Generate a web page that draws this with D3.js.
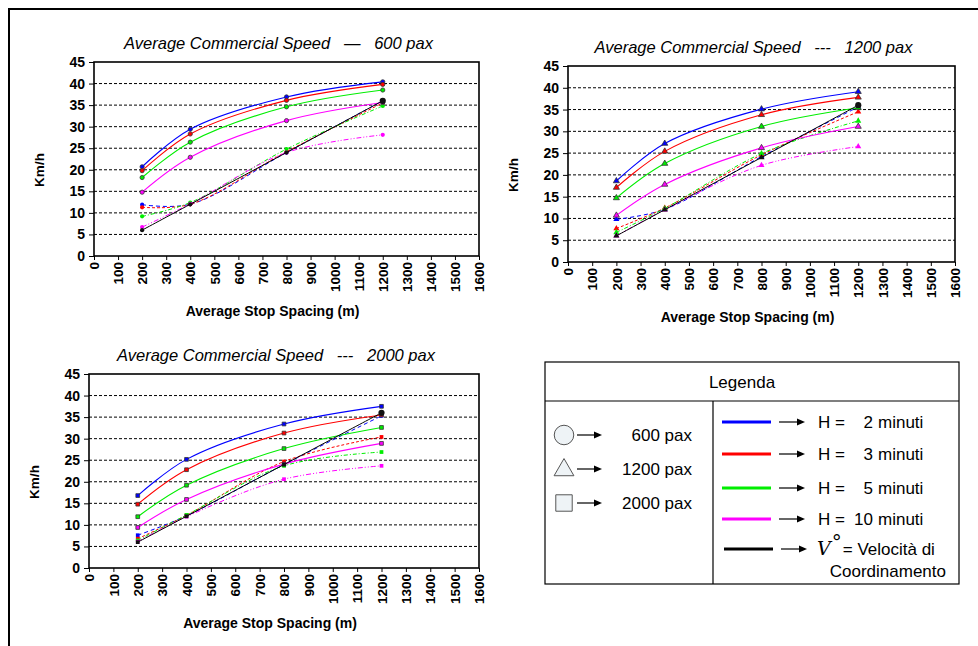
<!DOCTYPE html>
<html>
<head>
<meta charset="utf-8">
<script src="https://cdn.jsdelivr.net/npm/d3@7"></script>
<style>
  body { margin: 0; background: #fff; }
  svg { display: block; }
</style>
</head>
<body>
<script>
/* DATA */
const stopSpacing = [200, 400, 800, 1200];   // m
const xTicks = d3.range(0, 1601, 100);
const yTicks = d3.range(0, 46, 5);
const headwayLabels = ['2', '3', '5', '10'];
const vCoord = [6, 12, 24, 36];               // velocità di coordinamento

// rows: H = 2, 3, 5, 10 minuti
const solid600  = [[20.7, 29.4, 36.9, 40.4], [19.8, 28.3, 36.1, 39.8], [18.2, 26.4, 34.6, 38.5], [14.8, 22.9, 31.4, 35.6]];
const dashed600 = [[11.9, 12.0, 24.0, 36.0], [11.3, 12.0, 24.2, 35.5], [9.2, 12.4, 24.8, 34.8], [6.7, 12.1, 24.0, 28.1]];
const solid1200  = [[18.6, 27.2, 35.1, 39.1], [17.1, 25.4, 33.8, 37.8], [14.7, 22.6, 31.1, 35.4], [10.7, 17.8, 26.2, 31.1]];
const dashed1200 = [[9.8, 12.1, 24.2, 35.6], [7.7, 12.4, 24.6, 34.5], [6.8, 12.3, 24.9, 32.4], [6.0, 12.0, 22.2, 26.5]];
const solid2000  = [[16.8, 25.2, 33.4, 37.5], [14.8, 22.8, 31.3, 35.5], [11.9, 19.2, 27.7, 32.6], [9.4, 15.9, 24.1, 28.9]];
const dashed2000 = [[7.6, 12.1, 24.0, 35.3], [6.8, 12.2, 24.7, 30.4], [6.4, 12.3, 23.7, 26.9], [6.1, 11.9, 20.6, 23.7]];

/* STYLE */
const seriesColors = ['#0000ff', '#ff0000', '#00ee00', '#ff00ff'];
const dashPatterns = ['4,3', '3,2', '4,2,1,2', '5,2,1,2,1,2'];
const font = "Arial, 'Liberation Sans', sans-serif";

const width = 978, height = 646;

const svg = d3.select('body').append('svg')
    .attr('width', width)
    .attr('height', height)
    .style('font-family', font);

svg.append('rect').attr('width', width).attr('height', height).attr('fill', 'white');

// outer frame (left + top only visible)
svg.append('path')
    .attr('d', `M9,${height} V9 H${width}`)
    .attr('fill', 'none')
    .attr('stroke', '#000')
    .attr('stroke-width', 2);

const panels = [
  { title: 'Average Commercial Speed   \u2014   600 pax', left: 94, right: 479, top: 62, bottom: 256,
    symbol: d3.symbolCircle, size: 14, solid: solid600, dashed: dashed600 },
  { title: 'Average Commercial Speed   ---   1200 pax', left: 568, right: 955, top: 66, bottom: 262,
    symbol: d3.symbolTriangle, size: 16, solid: solid1200, dashed: dashed1200 },
  { title: 'Average Commercial Speed   ---   2000 pax', left: 89, right: 479, top: 374, bottom: 568,
    symbol: d3.symbolSquare, size: 14, solid: solid2000, dashed: dashed2000 }
];

function drawPanel(p) {
  const x = d3.scaleLinear().domain([0, 1600]).range([p.left, p.right]);
  const y = d3.scaleLinear().domain([0, 45]).range([p.bottom, p.top]);
  const midX = (p.left + p.right) / 2;
  const g = svg.append('g');

  // title
  g.append('text')
      .attr('x', midX - 8)
      .attr('y', p.top - 13)
      .attr('text-anchor', 'middle')
      .style('font-style', 'italic')
      .style('font-size', '16.5px')
      .style('white-space', 'pre')
      .text(p.title);

  // dotted gridlines
  g.selectAll('line.grid')
    .data(yTicks.filter(v => v > 0 && v < 45))
    .join('line')
      .attr('class', 'grid')
      .attr('x1', p.left).attr('x2', p.right)
      .attr('y1', d => y(d)).attr('y2', d => y(d))
      .attr('stroke', '#000')
      .attr('stroke-width', 1)
      .attr('stroke-dasharray', '3,2');

  // axes
  const yAxis = g.append('g')
      .attr('transform', `translate(${p.left},0)`)
      .call(d3.axisLeft(y).tickValues(yTicks).tickSize(5).tickPadding(4).tickFormat(d3.format('d')));
  yAxis.select('.domain').remove();
  yAxis.selectAll('text')
      .style('font-size', '14px').style('font-weight', 'bold').style('font-family', font).attr('fill', '#000');

  const xAxis = g.append('g')
      .attr('transform', `translate(0,${p.bottom})`)
      .call(d3.axisBottom(x).tickValues(xTicks).tickSize(4).tickFormat(d3.format('d')));
  xAxis.select('.domain').remove();
  xAxis.selectAll('text')
      .attr('transform', 'rotate(-90)')
      .attr('x', -6)
      .attr('y', 0)
      .attr('dy', '0.35em')
      .style('text-anchor', 'end')
      .style('font-size', '13.5px').style('font-weight', 'bold').style('font-family', font).attr('fill', '#000');

  // plot border
  g.append('rect')
      .attr('x', p.left).attr('y', p.top)
      .attr('width', p.right - p.left).attr('height', p.bottom - p.top)
      .attr('fill', 'none')
      .attr('stroke', '#000')
      .attr('stroke-width', 1.6);

  // axis titles
  g.append('text')
      .attr('x', midX - 14)
      .attr('y', p.bottom + 60)
      .attr('text-anchor', 'middle')
      .style('font-weight', 'bold')
      .style('font-size', '14px')
      .text('Average Stop Spacing (m)');

  g.append('text')
      .attr('transform', `translate(${p.left - 50},${(p.top + p.bottom) / 2 + 11}) rotate(-90)`)
      .attr('text-anchor', 'middle')
      .style('font-weight', 'bold')
      .style('font-size', '13.5px')
      .text('Km/h');

  const line = d3.line()
      .x((d, i) => x(stopSpacing[i]))
      .y(d => y(d))
      .curve(d3.curveCatmullRom.alpha(0.5));

  const sym = d3.symbol().type(p.symbol).size(p.size);
  const symBig = d3.symbol().type(d3.symbolCircle).size(30);

  // dashed series
  p.dashed.forEach((vals, k) => {
    g.append('path')
        .attr('d', line(vals))
        .attr('fill', 'none')
        .attr('stroke', seriesColors[k])
        .attr('stroke-width', 1)
        .attr('stroke-dasharray', dashPatterns[k]);
    g.selectAll(null).data(vals).join('path')
        .attr('transform', (d, i) => `translate(${x(stopSpacing[i])},${y(d)})`)
        .attr('d', sym)
        .attr('fill', seriesColors[k]);
  });

  // solid series
  p.solid.forEach((vals, k) => {
    g.append('path')
        .attr('d', line(vals))
        .attr('fill', 'none')
        .attr('stroke', seriesColors[k])
        .attr('stroke-width', 1.1);
    g.selectAll(null).data(vals).join('path')
        .attr('transform', (d, i) => `translate(${x(stopSpacing[i])},${y(d)})`)
        .attr('d', sym)
        .attr('fill', seriesColors[k])
        .attr('stroke', '#333')
        .attr('stroke-width', 0.8);
  });

  // coordination speed
  g.append('path')
      .attr('d', line(vCoord))
      .attr('fill', 'none')
      .attr('stroke', '#000')
      .attr('stroke-width', 1);
  g.selectAll(null).data(vCoord).join('path')
      .attr('transform', (d, i) => `translate(${x(stopSpacing[i])},${y(d)})`)
      .attr('d', (d, i) => i === vCoord.length - 1 ? symBig() : sym())
      .attr('fill', '#111');
}

panels.forEach(drawPanel);

/* LEGEND */
const lg = svg.append('g');
const box = { left: 545, right: 959, top: 362, bottom: 584, header: 401, divider: 713 };

lg.append('rect')
    .attr('x', box.left).attr('y', box.top)
    .attr('width', box.right - box.left).attr('height', box.bottom - box.top)
    .attr('fill', 'white').attr('stroke', '#000').attr('stroke-width', 1.2);
lg.append('line')
    .attr('x1', box.left).attr('x2', box.right)
    .attr('y1', box.header).attr('y2', box.header)
    .attr('stroke', '#000').attr('stroke-width', 1.2);
lg.append('line')
    .attr('x1', box.divider).attr('x2', box.divider)
    .attr('y1', box.header).attr('y2', box.bottom)
    .attr('stroke', '#000').attr('stroke-width', 1.2);

lg.append('text')
    .attr('x', 742).attr('y', 388)
    .attr('text-anchor', 'middle')
    .style('font-size', '17px')
    .text('Legenda');

function arrow(x1, x2, yy) {
  lg.append('line')
      .attr('x1', x1).attr('x2', x2 - 6)
      .attr('y1', yy).attr('y2', yy)
      .attr('stroke', '#000').attr('stroke-width', 1.2);
  lg.append('path')
      .attr('d', `M${x2},${yy} L${x2 - 8},${yy - 3.5} L${x2 - 8},${yy + 3.5} Z`)
      .attr('fill', '#000');
}

const paxLabels = ['600 pax', '1200 pax', '2000 pax'];
const paxSymbols = [d3.symbolCircle, d3.symbolTriangle, d3.symbolSquare];
const paxSizes = [300, 170, 270];
const paxRowY = [435, 469, 503];

paxLabels.forEach((lab, i) => {
  const yy = paxRowY[i];
  lg.append('path')
      .attr('transform', `translate(564,${yy + (i === 1 ? 1 : 0)})`)
      .attr('d', d3.symbol().type(paxSymbols[i]).size(paxSizes[i])())
      .attr('fill', '#eef3f6')
      .attr('stroke', '#555')
      .attr('stroke-width', 1);
  arrow(577, 602, yy);
  lg.append('text')
      .attr('x', 692).attr('y', yy + 6)
      .attr('text-anchor', 'end')
      .style('font-size', '17px')
      .text(lab);
});

const hRowY = [422, 454, 488, 519];
headwayLabels.forEach((h, i) => {
  const yy = hRowY[i];
  lg.append('line')
      .attr('x1', 722).attr('x2', 771)
      .attr('y1', yy).attr('y2', yy)
      .attr('stroke', seriesColors[i]).attr('stroke-width', 3);
  arrow(779, 805, yy);
  lg.append('text').attr('x', 818).attr('y', yy + 6).style('font-size', '17px').text('H =');
  lg.append('text').attr('x', 873).attr('y', yy + 6).attr('text-anchor', 'end').style('font-size', '17px').text(h);
  lg.append('text').attr('x', 878).attr('y', yy + 6).style('font-size', '17px').text('minuti');
});

// V° row
lg.append('line')
    .attr('x1', 724).attr('x2', 773)
    .attr('y1', 549).attr('y2', 549)
    .attr('stroke', '#000').attr('stroke-width', 3);
arrow(781, 807, 549);
const vt = lg.append('text').attr('x', 817).attr('y', 555).style('font-size', '17px');
vt.append('tspan').style('font-family', "'DejaVu Serif', 'Liberation Serif', serif").style('font-style', 'italic').style('font-size', '19px').text('V');
vt.append('tspan').attr('dy', -6).attr('dx', 1).style('font-size', '20px').style('font-family', "'DejaVu Sans', sans-serif").text('\u00B0');
vt.append('tspan').attr('dy', 6).attr('dx', 1).text('= Velocità di');
lg.append('text').attr('x', 946).attr('y', 577).attr('text-anchor', 'end').style('font-size', '17px').text('Coordinamento');
</script>
</body>
</html>
